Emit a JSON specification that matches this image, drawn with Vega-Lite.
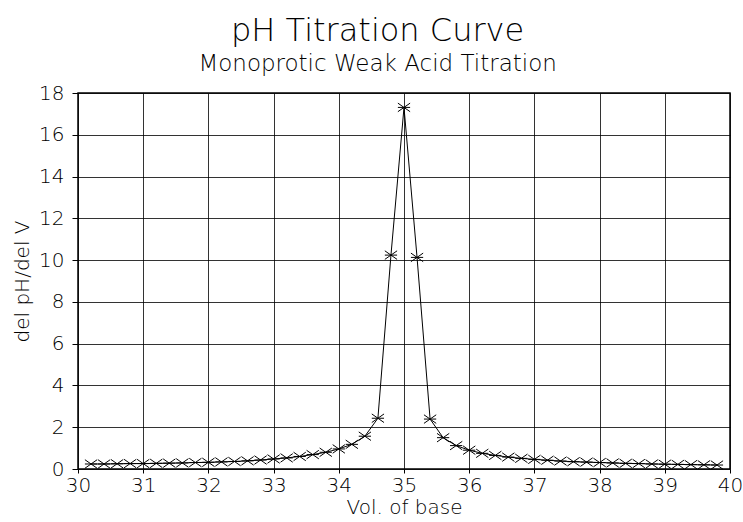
{
  "$schema": "https://vega.github.io/schema/vega-lite/v6.json",
  "width": 652,
  "height": 376,
  "autosize": "none",
  "padding": {"left": 78, "top": 93, "right": 13, "bottom": 53},
  "background": "white",
  "title": {
    "text": "pH Titration Curve",
    "subtitle": "Monoprotic Weak Acid Titration",
    "anchor": "middle",
    "frame": "bounds",
    "font": "DejaVu Sans",
    "fontSize": 32,
    "fontWeight": 200,
    "subtitleFont": "DejaVu Sans",
    "subtitleFontSize": 23,
    "subtitleFontWeight": 200,
    "subtitleColor": "black",
    "color": "black",
    "offset": 6,
    "subtitlePadding": 5
  },
  "config": {
    "view": {"stroke": "black", "strokeWidth": 1.5},
    "axis": {
      "labelFont": "DejaVu Sans",
      "titleFont": "DejaVu Sans",
      "labelColor": "black",
      "titleColor": "black",
      "labelFontWeight": 200,
      "titleFontWeight": 200,
      "labelFontSize": 20,
      "titleFontSize": 20,
      "labelFlush": false,
      "gridColor": "black",
      "gridOpacity": 0.8,
      "gridWidth": 1,
      "tickColor": "black",
      "domain": false
    }
  },
  "data": {
    "values": [
      {"vol": 30.2, "d": 0.24}, {"vol": 30.4, "d": 0.24}, {"vol": 30.6, "d": 0.25},
      {"vol": 30.8, "d": 0.26}, {"vol": 31.0, "d": 0.26}, {"vol": 31.2, "d": 0.27},
      {"vol": 31.4, "d": 0.28}, {"vol": 31.6, "d": 0.29}, {"vol": 31.8, "d": 0.31},
      {"vol": 32.0, "d": 0.32}, {"vol": 32.2, "d": 0.34}, {"vol": 32.4, "d": 0.36},
      {"vol": 32.6, "d": 0.39}, {"vol": 32.8, "d": 0.43}, {"vol": 33.0, "d": 0.48},
      {"vol": 33.2, "d": 0.53}, {"vol": 33.4, "d": 0.6}, {"vol": 33.6, "d": 0.69},
      {"vol": 33.8, "d": 0.8}, {"vol": 34.0, "d": 0.96}, {"vol": 34.2, "d": 1.18},
      {"vol": 34.4, "d": 1.57}, {"vol": 34.6, "d": 2.43}, {"vol": 34.8, "d": 10.24},
      {"vol": 35.0, "d": 17.31}, {"vol": 35.2, "d": 10.13}, {"vol": 35.4, "d": 2.39},
      {"vol": 35.6, "d": 1.5}, {"vol": 35.8, "d": 1.12}, {"vol": 36.0, "d": 0.9},
      {"vol": 36.2, "d": 0.75}, {"vol": 36.4, "d": 0.65}, {"vol": 36.6, "d": 0.57},
      {"vol": 36.8, "d": 0.51}, {"vol": 37.0, "d": 0.46}, {"vol": 37.2, "d": 0.42},
      {"vol": 37.4, "d": 0.38}, {"vol": 37.6, "d": 0.35}, {"vol": 37.8, "d": 0.33},
      {"vol": 38.0, "d": 0.31}, {"vol": 38.2, "d": 0.29}, {"vol": 38.4, "d": 0.27},
      {"vol": 38.6, "d": 0.26}, {"vol": 38.8, "d": 0.24}, {"vol": 39.0, "d": 0.23},
      {"vol": 39.2, "d": 0.22}, {"vol": 39.4, "d": 0.21}, {"vol": 39.6, "d": 0.2},
      {"vol": 39.8, "d": 0.19}
    ]
  },
  "encoding": {
    "x": {
      "field": "vol", "type": "quantitative",
      "scale": {"domain": [30, 40], "nice": false, "zero": false},
      "axis": {"title": "Vol. of base", "values": [30,31,32,33,34,35,36,37,38,39,40], "tickSize": 4, "labelPadding": 2, "titlePadding": 2, "format": "d"}
    },
    "y": {
      "field": "d", "type": "quantitative",
      "scale": {"domain": [0, 18], "nice": false},
      "axis": {"title": "del pH/del V", "values": [0,2,4,6,8,10,12,14,16,18], "tickSize": 6, "labelPadding": 8, "titlePadding": 6, "format": "d"}
    }
  },
  "layer": [
    {"mark": {"type": "line", "color": "black", "strokeWidth": 1}},
    {"mark": {"type": "point", "shape": "M-1,-0.7L1,0.7M-1,0.7L1,-0.7M-1,0L1,0", "size": 150, "filled": false, "stroke": "black", "strokeWidth": 1, "opacity": 1}}
  ]
}
